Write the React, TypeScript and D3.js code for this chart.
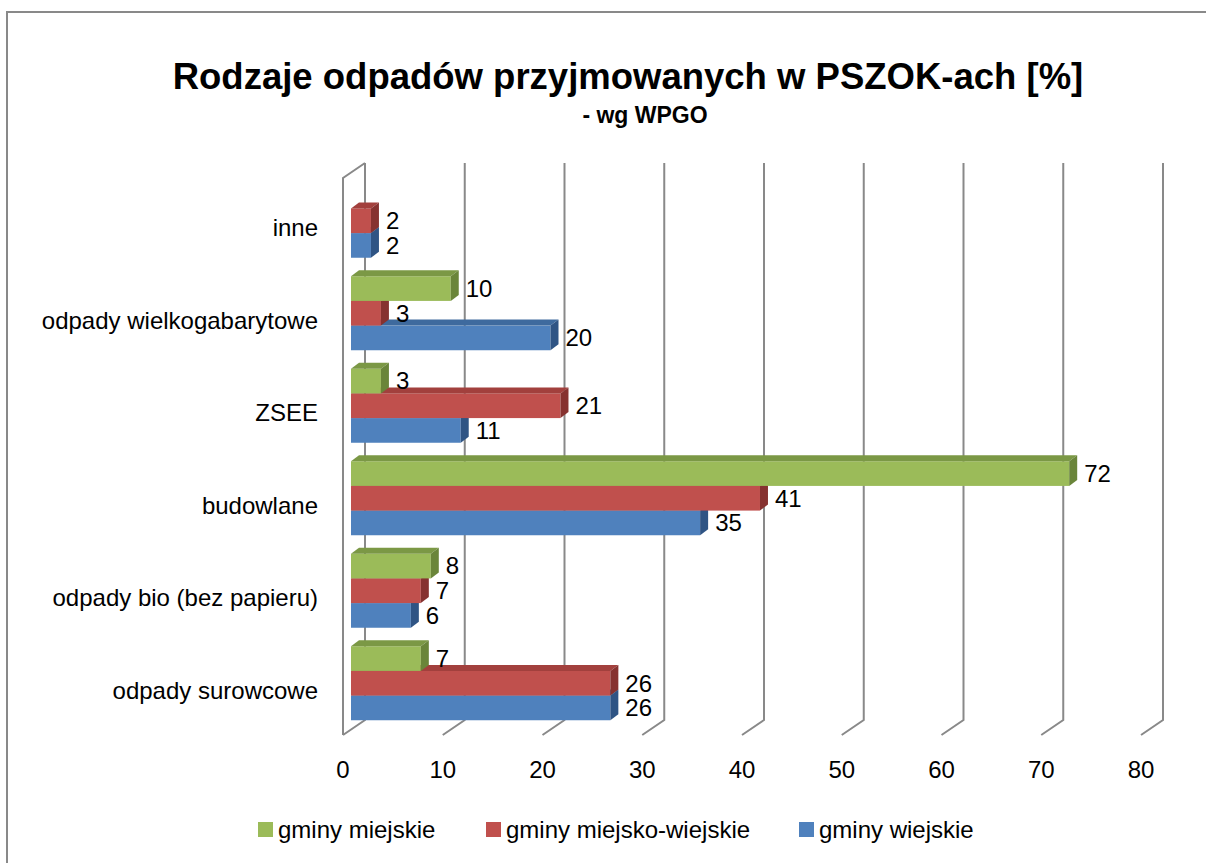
import React from "react";
import * as d3 from "d3";

// dane
const categories = [
  "odpady surowcowe",
  "odpady bio (bez papieru)",
  "budowlane",
  "ZSEE",
  "odpady wielkogabarytowe",
  "inne",
];
const gminyWiejskie = [26, 6, 35, 11, 20, 2];
const gminyMiejskoWiejskie = [26, 7, 41, 21, 3, 2];
const gminyMiejskie: (number | null)[] = [7, 8, 72, 3, 10, null];
const xTicks = [0, 10, 20, 30, 40, 50, 60, 70, 80];
const seriesNames = ["gminy wiejskie", "gminy miejsko-wiejskie", "gminy miejskie"];

const W = 1206;
const H = 863;
const FONT = "'Liberation Sans', Arial, sans-serif";

const series = [
  { name: seriesNames[0], values: gminyWiejskie, front: "#4F81BD", top: "#3E6A9E", side: "#2F5484" },
  { name: seriesNames[1], values: gminyMiejskoWiejskie, front: "#C0504D", top: "#A2403D", side: "#863230" },
  { name: seriesNames[2], values: gminyMiejskie, front: "#9BBB59", top: "#7B9845", side: "#6A853A" },
];

const App = () => {
  // back wall
  const x = d3.scaleLinear().domain([0, 80]).range([365, 1163]);
  const wallTop = 163;
  const wallBottom = 720;
  const floorDx = -22;
  const floorDy = 15;
  // bars sit a bit inside the depth
  const barShift = -14;
  const depthDx = 8;
  const depthDy = -6;

  const y = d3.scaleBand<string>()
    .domain(categories)
    .range([729.5, 174.5])
    .paddingInner(0.2)
    .paddingOuter(0.1);

  const inner = d3.scaleBand<string>()
    .domain([seriesNames[2], seriesNames[1], seriesNames[0]])
    .range([0, y.bandwidth()]);

  const gridColor = "#898989";
  const textSize = 24;

  const legendItems = [
    { s: series[2], x: 258 },
    { s: series[1], x: 486 },
    { s: series[0], x: 799 },
  ];

  return (
    <svg width={W} height={H} style={{ position: "absolute", left: 0, top: 0, display: "block" }}>
      <rect x={0} y={0} width={W} height={H} fill="#fff" />
      <rect x={7} y={12} width={W + 50} height={H + 50} fill="none" stroke={gridColor} strokeWidth={2} />

      <text x={628} y={89} textAnchor="middle" fontFamily={FONT} fontWeight="bold" fontSize={36.5} fill="#000">
        Rodzaje odpadów przyjmowanych w PSZOK-ach [%]
      </text>
      <text x={645} y={123} textAnchor="middle" fontFamily={FONT} fontWeight="bold" fontSize={23} fill="#000">
        - wg WPGO
      </text>

      {/* left wall */}
      <path
        d={`M${x(0) + floorDx},${wallBottom + floorDy} L${x(0) + floorDx},${wallTop + floorDy} L${x(0)},${wallTop}`}
        fill="none"
        stroke={gridColor}
        strokeWidth={2}
      />

      {/* gridlines with floor */}
      {xTicks.map((t) => (
        <path
          key={t}
          d={`M${x(t)},${wallTop} L${x(t)},${wallBottom} L${x(t) + floorDx},${wallBottom + floorDy}`}
          fill="none"
          stroke={gridColor}
          strokeWidth={2}
        />
      ))}

      {xTicks.map((t) => (
        <text
          key={t}
          x={x(t) + floorDx}
          y={770}
          dy="0.35em"
          textAnchor="middle"
          fontFamily={FONT}
          fontSize={textSize}
          fill="#000"
        >
          {t}
        </text>
      ))}

      {categories.map((c) => (
        <text
          key={c}
          x={318}
          y={(y(c) as number) + y.bandwidth() / 2 + 7}
          dy="0.35em"
          textAnchor="end"
          fontFamily={FONT}
          fontSize={textSize}
          fill="#000"
        >
          {c}
        </text>
      ))}

      {/* bars, bottom series first */}
      {categories.map((c, i) => (
        <g key={c}>
          {series.map((s) => {
            const v = s.values[i];
            if (v == null) return null;
            const x0 = x(0) + barShift;
            const x1 = x(v) + barShift;
            const yt = (y(c) as number) + (inner(s.name) as number);
            const bh = inner.bandwidth();
            return (
              <g key={s.name}>
                <rect x={x0} y={yt} width={x1 - x0} height={bh} fill={s.front} />
                <path
                  d={`M${x0},${yt} L${x0 + depthDx},${yt + depthDy} L${x1 + depthDx},${yt + depthDy} L${x1},${yt} Z`}
                  fill={s.top}
                />
                <path
                  d={`M${x1},${yt} L${x1 + depthDx},${yt + depthDy} L${x1 + depthDx},${yt + bh + depthDy} L${x1},${yt + bh} Z`}
                  fill={s.side}
                />
              </g>
            );
          })}
        </g>
      ))}

      {/* value labels */}
      {categories.map((c, i) =>
        series.map((s) => {
          const v = s.values[i];
          if (v == null) return null;
          const yt = (y(c) as number) + (inner(s.name) as number);
          return (
            <text
              key={c + s.name}
              x={x(v) + barShift + depthDx + 7}
              y={yt + inner.bandwidth() / 2}
              dy="0.35em"
              fontFamily={FONT}
              fontSize={textSize}
              fill="#000"
            >
              {v}
            </text>
          );
        })
      )}

      {/* legend */}
      {legendItems.map(({ s, x: lx }) => (
        <g key={s.name}>
          <rect x={lx} y={822} width={15} height={15} fill={s.front} />
          <text x={lx + 20} y={830} dy="0.35em" fontFamily={FONT} fontSize={textSize} fill="#000">
            {s.name}
          </text>
        </g>
      ))}
    </svg>
  );
};

export default App;
